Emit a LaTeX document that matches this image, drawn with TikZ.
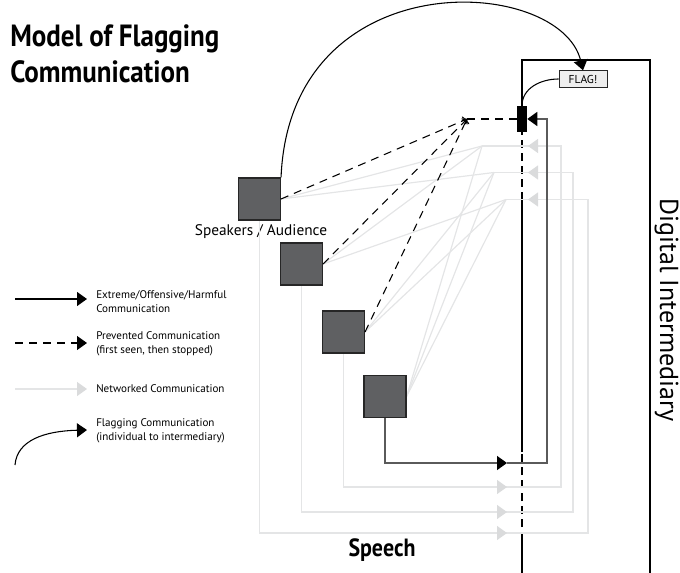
\documentclass[tikz,border=0pt]{standalone}
\usepackage{fontspec}
\setmainfont{PT Sans}
\newfontfamily\headfont[FakeStretch=0.88]{PT Sans}
\usetikzlibrary{arrows.meta}

\definecolor{boxgray}{HTML}{5F6062}
\definecolor{linkgray}{HTML}{5A5A5A}
\definecolor{netgray}{HTML}{E4E5E6}
\definecolor{nettipgray}{HTML}{DADBDC}
\definecolor{flagfill}{HTML}{EEEEEE}

\tikzset{
  speaker/.style={draw=black!85, fill=boxgray, minimum size=31.5pt, inner sep=0pt, line width=0.8pt},
  harm/.style={line width=0.9pt, -{Triangle[length=7.5pt,width=10.5pt]}},
  prevented/.style={line width=0.8pt, dash pattern=on 6pt off 4.5pt},
  net/.style={draw=netgray, line width=0.9pt},
  nettip/.style={draw=netgray, line width=0.9pt, -{Triangle[length=7.5pt,width=10.5pt,color=nettipgray]}},
  flagline/.style={line width=0.8pt, -{Triangle[length=7.5pt,width=10.5pt]}},
  legendtext/.style={anchor=west, align=left, inner sep=0pt, font=\fontsize{8.3}{10.5}\selectfont}
}

\begin{document}
\begin{tikzpicture}[x=0.75pt, y=-0.75pt]
\useasboundingbox (0,0) rectangle (680,573);

% title
\node[anchor=base west, align=left, inner sep=0pt, font=\headfont\bfseries\fontsize{23}{27}\selectfont] (title) at (10,83) {Model of Flagging\\Communication};

% the intermediary
\draw[line width=0.8pt] (522,573) -- (522,540);
\draw[line width=0.8pt, dash pattern=on 6pt off 3.75pt] (522,540) -- (522,452);
\draw[line width=0.8pt] (522,452) -- (522,200);
\draw[line width=0.8pt, dash pattern=on 6pt off 3.75pt] (522,200) -- (522,132);
\draw[line width=0.8pt] (522,110) -- (522,60) -- (650,60) -- (650,573);
\node[rotate=-90, anchor=base, font=\fontsize{19.5}{22}\selectfont] (interm) at (660,310) {Digital Intermediary};

% meeting points of the network
\coordinate (p1) at (482,146);
\coordinate (p2) at (494,172.5);
\coordinate (p3) at (506,199.5);
\coordinate (stop) at (467,119);

% speakers
\node[speaker] (s1) at (259.5,199) {};
\node[speaker] (s2) at (301.5,264) {};
\node[speaker] (s3) at (343.5,332) {};
\node[speaker] (s4) at (385,396.5) {};
\node[font=\fontsize{11.5}{13}\selectfont] (spk) at (261,232) {Speakers / Audience};

% networked communication
\foreach \a/\b in {s1/p1, s1/p2, s2/p1, s2/p3, s3/p2, s3/p3, s4/p1, s4/p2, s4/p3}
  \draw[net] (\a.east) -- (\b);
\foreach \s/\ly/\rx/\p in {s3/487/561/p1, s2/512/573/p2, s1/533/588/p3} {
  \draw[net] (\s.south) |- (\rx,\ly) |- (\p);
  \draw[nettip] (490,\ly) -- (507,\ly);
  \draw[nettip] (\rx,0 |- \p) -- (528,0 |- \p);
}
% redraw the squares over the lines
\foreach \s in {s1,s2,s3,s4}
  \node[speaker] at (\s) {};

% flag marker on the intermediary
\node[fill=black, minimum width=7.5pt, minimum height=19.5pt, inner sep=0pt] (marker) at (522,119) {};
\node[draw=black!85, fill=flagfill, line width=0.6pt, minimum width=36pt, minimum height=12.5pt, inner sep=0pt, font=\fontsize{8.6}{10}\selectfont] (flag) at (583,79) {FLAG!};
\draw[line width=0.8pt] (flag.west) to[out=180, in=90] (marker.north);

% prevented communication
\foreach \s in {s1,s2,s3}
  \draw[prevented, -{To[length=3pt]}] (\s.east) -- (stop);
\draw[prevented] (stop) -- (marker.west);

% extreme communication
\draw[draw=linkgray, line width=1.1pt, -{Triangle[length=7.5pt,width=10.5pt,color=black]}] (s4.south) |- (507,463);
\draw[draw=linkgray, line width=1.1pt, -{Triangle[length=7.5pt,width=10.5pt,color=black]}] (507,463) -| (547,119) -- (marker.east);

% flagging
\draw[flagline] (s1.north east) .. controls (290,-40) and (560,-25) .. (flag.north);

\node[font=\headfont\bfseries\fontsize{18.7}{20}\selectfont] (speech) at (382,550) {Speech};

% legend
\node[legendtext] (lg1) at (96,302) {Extreme/Offensive/Harmful\\Communication};
\node[legendtext] (lg2) at (96,344) {Prevented Communication\\(first seen, then stopped)};
\node[legendtext] (lg3) at (96,389) {Networked Communication};
\node[legendtext] (lg4) at (96,431) {Flagging Communication\\(individual to intermediary)};
\coordinate (k1) at (15,299);
\coordinate (k2) at (15,343);
\coordinate (k3) at (15,389);
\coordinate (k4) at (15,465);
\draw[harm] (k1) -- (k1 -| 87,0);
\draw[prevented, -{Triangle[length=7.5pt,width=10.5pt]}] (k2) -- (k2 -| 87,0);
\draw[nettip] (k3) -- (k3 -| 87,0);
\draw[flagline] (k4) .. controls (17,440) and (45,431) .. (87,430);
\end{tikzpicture}
\end{document}
